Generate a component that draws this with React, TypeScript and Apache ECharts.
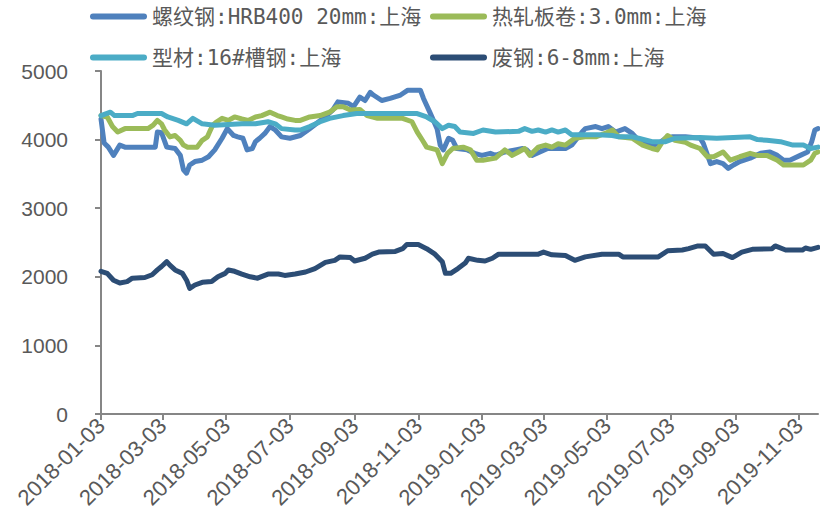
import React, { useEffect, useRef } from 'react';
import * as echarts from 'echarts';

// Daily price axis: every calendar day between these two dates
const START_DATE = '2018-01-03';
const END_DATE = '2019-11-21';

// Dates that carry a tick and a label on the x axis
const tickDates = [
  '2018-01-03', '2018-03-03', '2018-05-03', '2018-07-03', '2018-09-03', '2018-11-03',
  '2019-01-03', '2019-03-03', '2019-05-03', '2019-07-03', '2019-09-03', '2019-11-03',
];

const seriesNames = [
  '螺纹钢:HRB400 20mm:上海',
  '热轧板卷:3.0mm:上海',
  '型材:16#槽钢:上海',
  '废钢:6-8mm:上海',
];

const seriesColors = ['#4F81BD', '#9BBB59', '#4BACC6', '#2C4D75'];

// 螺纹钢 HRB400 20mm 上海 (元/吨)
const rebar: [string, number][] = [
  ['2018-01-03', 4300], ['2018-01-06', 3950], ['2018-01-10', 3890], ['2018-01-15', 3770],
  ['2018-01-21', 3920], ['2018-01-26', 3890], ['2018-02-24', 3890], ['2018-02-26', 4110],
  ['2018-03-02', 4100], ['2018-03-07', 3890], ['2018-03-15', 3870], ['2018-03-20', 3770],
  ['2018-03-23', 3560], ['2018-03-26', 3510], ['2018-03-29', 3630], ['2018-04-03', 3680],
  ['2018-04-10', 3700], ['2018-04-16', 3750], ['2018-04-22', 3850], ['2018-04-29', 4020],
  ['2018-05-04', 4160], ['2018-05-10', 4060], ['2018-05-14', 4040], ['2018-05-19', 4020],
  ['2018-05-23', 3850], ['2018-05-28', 3870], ['2018-05-31', 3970], ['2018-06-04', 4020],
  ['2018-06-09', 4090], ['2018-06-14', 4190], ['2018-06-19', 4140], ['2018-06-25', 4040],
  ['2018-07-03', 4020], ['2018-07-13', 4060], ['2018-07-22', 4160], ['2018-08-04', 4310],
  ['2018-08-13', 4430], ['2018-08-18', 4550], ['2018-08-28', 4530], ['2018-09-02', 4480],
  ['2018-09-08', 4620], ['2018-09-13', 4570], ['2018-09-18', 4690], ['2018-09-21', 4650],
  ['2018-09-29', 4570], ['2018-10-07', 4600], ['2018-10-17', 4650], ['2018-10-24', 4720],
  ['2018-11-05', 4720], ['2018-11-08', 4600], ['2018-11-14', 4400], ['2018-11-21', 4160],
  ['2018-11-24', 3920], ['2018-11-27', 3850], ['2018-12-02', 4020], ['2018-12-06', 3990],
  ['2018-12-10', 3870], ['2018-12-20', 3850], ['2018-12-27', 3800], ['2019-01-03', 3770],
  ['2019-01-11', 3800], ['2019-01-16', 3770], ['2019-01-25', 3820], ['2019-02-04', 3850],
  ['2019-02-11', 3870], ['2019-02-15', 3850], ['2019-02-20', 3770], ['2019-03-07', 3870],
  ['2019-03-24', 3870], ['2019-03-30', 3920], ['2019-04-09', 4110], ['2019-04-12', 4160],
  ['2019-04-22', 4190], ['2019-04-28', 4160], ['2019-05-04', 4190], ['2019-05-11', 4110],
  ['2019-05-20', 4160], ['2019-05-27', 4090], ['2019-06-02', 3990], ['2019-06-15', 3920],
  ['2019-06-21', 3940], ['2019-06-28', 4020], ['2019-07-04', 4040], ['2019-07-17', 4040],
  ['2019-07-31', 4020], ['2019-08-03', 3950], ['2019-08-10', 3650], ['2019-08-16', 3680],
  ['2019-08-22', 3650], ['2019-08-27', 3580], ['2019-09-01', 3630], ['2019-09-07', 3680],
  ['2019-09-17', 3730], ['2019-09-27', 3800], ['2019-10-06', 3820], ['2019-10-13', 3770],
  ['2019-10-19', 3700], ['2019-10-25', 3700], ['2019-11-04', 3770], ['2019-11-11', 3820],
  ['2019-11-15', 3970], ['2019-11-18', 4140], ['2019-11-21', 4160],
];

// 热轧板卷 3.0mm 上海
const hotRolled: [string, number][] = [
  ['2018-01-03', 4350], ['2018-01-09', 4330], ['2018-01-14', 4190], ['2018-01-19', 4110],
  ['2018-01-26', 4160], ['2018-02-17', 4160], ['2018-02-22', 4210], ['2018-02-26', 4280],
  ['2018-03-02', 4230], ['2018-03-05', 4140], ['2018-03-10', 4040], ['2018-03-15', 4060],
  ['2018-03-20', 3990], ['2018-03-23', 3920], ['2018-03-27', 3890], ['2018-04-05', 3890],
  ['2018-04-10', 3990], ['2018-04-15', 4040], ['2018-04-17', 4110], ['2018-04-20', 4210],
  ['2018-04-24', 4260], ['2018-04-29', 4310], ['2018-05-05', 4280], ['2018-05-11', 4330],
  ['2018-05-18', 4300], ['2018-05-24', 4280], ['2018-05-31', 4330], ['2018-06-06', 4350],
  ['2018-06-14', 4400], ['2018-06-21', 4350], ['2018-06-25', 4330], ['2018-07-01', 4300],
  ['2018-07-08', 4280], ['2018-07-13', 4280], ['2018-07-22', 4330], ['2018-08-01', 4350],
  ['2018-08-10', 4400], ['2018-08-17', 4480], ['2018-08-23', 4480], ['2018-08-30', 4430],
  ['2018-09-08', 4440], ['2018-09-15', 4350], ['2018-09-25', 4310], ['2018-10-19', 4310],
  ['2018-10-28', 4260], ['2018-11-02', 4110], ['2018-11-07', 3990], ['2018-11-11', 3890],
  ['2018-11-21', 3850], ['2018-11-26', 3650], ['2018-12-01', 3800], ['2018-12-06', 3870],
  ['2018-12-16', 3890], ['2018-12-23', 3850], ['2018-12-29', 3700], ['2019-01-04', 3700],
  ['2019-01-16', 3730], ['2019-01-25', 3850], ['2019-02-01', 3770], ['2019-02-07', 3820],
  ['2019-02-13', 3870], ['2019-02-18', 3770], ['2019-02-26', 3890], ['2019-03-05', 3920],
  ['2019-03-11', 3890], ['2019-03-17', 3940], ['2019-03-24', 3920], ['2019-04-02', 4020],
  ['2019-04-12', 4040], ['2019-04-22', 4040], ['2019-05-01', 4090], ['2019-05-08', 4140],
  ['2019-05-14', 4040], ['2019-05-27', 4020], ['2019-06-06', 3920], ['2019-06-15', 3870],
  ['2019-06-20', 3850], ['2019-06-25', 3970], ['2019-06-30', 4060], ['2019-07-07', 3990],
  ['2019-07-17', 3960], ['2019-07-22', 3920], ['2019-07-31', 3870], ['2019-08-07', 3750],
  ['2019-08-13', 3750], ['2019-08-22', 3820], ['2019-08-29', 3700], ['2019-09-07', 3750],
  ['2019-09-17', 3800], ['2019-09-24', 3770], ['2019-10-03', 3770], ['2019-10-13', 3700],
  ['2019-10-19', 3630], ['2019-11-07', 3630], ['2019-11-14', 3700], ['2019-11-18', 3800],
  ['2019-11-21', 3820],
];

// 型材 16#槽钢 上海
const channel: [string, number][] = [
  ['2018-01-03', 4350], ['2018-01-12', 4400], ['2018-01-16', 4350], ['2018-02-02', 4350],
  ['2018-02-07', 4380], ['2018-03-02', 4380], ['2018-03-08', 4330], ['2018-03-18', 4280],
  ['2018-03-26', 4230], ['2018-04-01', 4310], ['2018-04-10', 4230], ['2018-04-22', 4210],
  ['2018-05-18', 4230], ['2018-05-31', 4230], ['2018-06-12', 4260], ['2018-06-19', 4230],
  ['2018-06-25', 4160], ['2018-07-08', 4140], ['2018-07-13', 4140], ['2018-07-22', 4190],
  ['2018-08-01', 4260], ['2018-08-10', 4310], ['2018-08-23', 4350], ['2018-09-05', 4380],
  ['2018-11-02', 4380], ['2018-11-11', 4330], ['2018-11-19', 4260], ['2018-11-26', 4160],
  ['2018-12-02', 4210], ['2018-12-08', 4190], ['2018-12-13', 4110], ['2018-12-26', 4090],
  ['2019-01-04', 4140], ['2019-01-16', 4110], ['2019-02-07', 4120], ['2019-02-13', 4160],
  ['2019-02-20', 4120], ['2019-02-26', 4140], ['2019-03-05', 4110], ['2019-03-11', 4140],
  ['2019-03-17', 4110], ['2019-03-24', 4140], ['2019-03-30', 4070], ['2019-04-24', 4070],
  ['2019-05-08', 4060], ['2019-05-14', 4040], ['2019-05-27', 4040], ['2019-06-02', 4020],
  ['2019-06-15', 3970], ['2019-06-28', 3970], ['2019-07-07', 4020], ['2019-07-31', 4030],
  ['2019-08-16', 4020], ['2019-09-17', 4040], ['2019-09-24', 4000], ['2019-10-03', 3990],
  ['2019-10-16', 3970], ['2019-10-28', 3920], ['2019-11-07', 3920], ['2019-11-14', 3870],
  ['2019-11-21', 3890],
];

// 废钢 6-8mm 上海
const scrap: [string, number][] = [
  ['2018-01-03', 2080], ['2018-01-09', 2050], ['2018-01-15', 1950], ['2018-01-21', 1910],
  ['2018-01-28', 1930], ['2018-02-02', 1980], ['2018-02-14', 1990], ['2018-02-21', 2030],
  ['2018-02-26', 2100], ['2018-03-02', 2150], ['2018-03-07', 2220], ['2018-03-10', 2170],
  ['2018-03-15', 2100], ['2018-03-22', 2050], ['2018-03-26', 1950], ['2018-03-29', 1830],
  ['2018-04-03', 1880], ['2018-04-10', 1920], ['2018-04-19', 1930], ['2018-04-25', 2000],
  ['2018-05-02', 2050], ['2018-05-05', 2100], ['2018-05-11', 2080], ['2018-05-18', 2040],
  ['2018-05-26', 2000], ['2018-06-02', 1980], ['2018-06-12', 2040], ['2018-06-22', 2040],
  ['2018-06-28', 2020], ['2018-07-08', 2040], ['2018-07-18', 2070], ['2018-07-27', 2120],
  ['2018-08-06', 2210], ['2018-08-15', 2240], ['2018-08-20', 2290], ['2018-08-30', 2280],
  ['2018-09-03', 2230], ['2018-09-13', 2270], ['2018-09-20', 2330], ['2018-09-26', 2360],
  ['2018-10-12', 2370], ['2018-10-19', 2410], ['2018-10-23', 2470], ['2018-11-03', 2470],
  ['2018-11-11', 2410], ['2018-11-19', 2330], ['2018-11-26', 2220], ['2018-11-29', 2050],
  ['2018-12-04', 2050], ['2018-12-11', 2120], ['2018-12-18', 2200], ['2018-12-21', 2270],
  ['2018-12-30', 2240], ['2019-01-06', 2230], ['2019-01-13', 2270], ['2019-01-19', 2330],
  ['2019-02-26', 2330], ['2019-03-03', 2360], ['2019-03-11', 2320], ['2019-03-24', 2310],
  ['2019-04-02', 2240], ['2019-04-12', 2290], ['2019-04-28', 2330], ['2019-05-14', 2330],
  ['2019-05-18', 2290], ['2019-06-21', 2290], ['2019-06-30', 2380], ['2019-07-14', 2390],
  ['2019-07-20', 2410], ['2019-07-29', 2450], ['2019-08-05', 2450], ['2019-08-13', 2330],
  ['2019-08-22', 2340], ['2019-08-31', 2280], ['2019-09-09', 2360], ['2019-09-19', 2400],
  ['2019-10-08', 2410], ['2019-10-11', 2450], ['2019-10-21', 2390], ['2019-11-06', 2390],
  ['2019-11-09', 2420], ['2019-11-14', 2400], ['2019-11-21', 2430],
];

const yTicks = { min: 0, max: 5000, step: 1000 };

function buildDays(start: string, end: string): string[] {
  const toUtc = (s: string) => {
    const [y, m, d] = s.split('-').map(Number);
    return Date.UTC(y, m - 1, d);
  };
  const days: string[] = [];
  for (let t = toUtc(start); t <= toUtc(end); t += 86400000) {
    days.push(new Date(t).toISOString().slice(0, 10));
  }
  return days;
}

const LEGEND_ICON = 'path://M3,0L54,0A3,3,0,0,1,54,6L3,6A3,3,0,0,1,3,0Z';
const LABEL_FONT = "'Liberation Sans', Arial, sans-serif";
const LEGEND_FONT = "'DejaVu Sans Mono', 'Noto Sans CJK SC', monospace";
const AXIS_COLOR = '#868686';
const TEXT_COLOR = '#595959';

export default function App() {
  const ref = useRef<HTMLDivElement>(null);

  useEffect(() => {
    if (!ref.current) return;
    document.body.style.margin = '0';
    const chart = echarts.init(ref.current, null, { renderer: 'svg' });

    const days = buildDays(START_DATE, END_DATE);
    const dayIndex: Record<string, number> = {};
    days.forEach((d, i) => { dayIndex[d] = i; });
    const tickSet = new Set(tickDates);
    const showTick = (_i: number, value: string) => tickSet.has(value);

    const allSeries = [rebar, hotRolled, channel, scrap];

    const legendPos = [
      { left: 90, top: 6 },
      { left: 430, top: 6 },
      { left: 90, top: 47 },
      { left: 430, top: 47 },
    ];

    chart.setOption({
      animation: false,
      backgroundColor: '#ffffff',
      color: seriesColors,
      legend: seriesNames.map((name, i) => ({
        data: [name],
        left: legendPos[i].left,
        top: legendPos[i].top,
        padding: 0,
        icon: LEGEND_ICON,
        itemWidth: 57,
        itemHeight: 6,
        selectedMode: false,
        textStyle: { fontSize: 21, color: TEXT_COLOR, fontFamily: LEGEND_FONT },
      })),
      grid: { left: 101, right: 2, top: 71, bottom: 116 },
      xAxis: {
        type: 'category',
        data: days,
        boundaryGap: false,
        axisLine: { lineStyle: { color: AXIS_COLOR, width: 2 } },
        axisTick: { interval: showTick, length: 6, lineStyle: { color: AXIS_COLOR, width: 2 } },
        axisLabel: {
          interval: showTick,
          rotate: 45,
          margin: 8,
          fontSize: 22,
          color: TEXT_COLOR,
          fontFamily: LABEL_FONT,
        },
        splitLine: { show: false },
      },
      yAxis: {
        type: 'value',
        min: yTicks.min,
        max: yTicks.max,
        interval: yTicks.step,
        axisLine: { show: true, lineStyle: { color: AXIS_COLOR, width: 2 } },
        axisTick: { show: true, length: 6, lineStyle: { color: AXIS_COLOR, width: 2 } },
        axisLabel: {
          margin: 33,
          fontSize: 21,
          color: TEXT_COLOR,
          fontFamily: LABEL_FONT,
          formatter: (v: number) => String(v),
        },
        splitLine: { show: false },
      },
      series: allSeries.map((points, i) => ({
        name: seriesNames[i],
        type: 'line',
        showSymbol: false,
        symbol: 'none',
        data: points.map(([d, v]) => [dayIndex[d], v]),
        lineStyle: { width: 5, color: seriesColors[i], cap: 'round', join: 'round' },
        itemStyle: { color: seriesColors[i] },
      })),
    });

    return () => chart.dispose();
  }, []);

  return <div ref={ref} style={{ width: 820, height: 530 }} />;
}
